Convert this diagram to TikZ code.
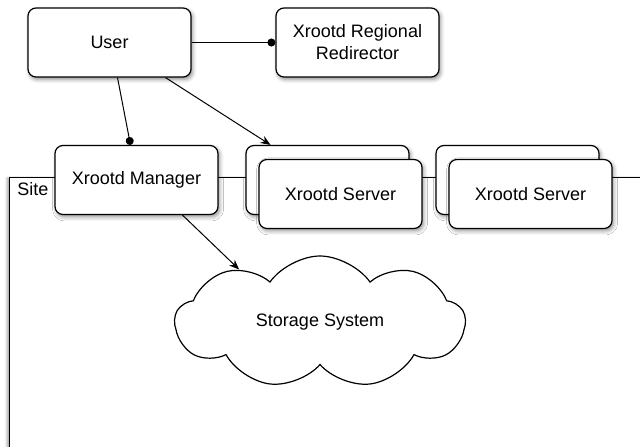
\documentclass[tikz,border=0pt]{standalone}
\usepackage{fontspec}
\setmainfont{Liberation Sans}
\usetikzlibrary{positioning,arrows.meta,shapes.symbols,shadows.blur,calc}

\begin{document}
\begin{tikzpicture}[
  x=0.5pt, y=0.5pt,
  font=\fontsize{9}{11}\selectfont, >=Stealth,
  box/.style={draw, rounded corners=4pt, fill=white, line width=0.6pt,
              minimum width=81.5pt, minimum height=34.5pt, align=center, inner sep=0pt,
              blur shadow={shadow xshift=0.8pt, shadow yshift=-1.2pt,
                           shadow blur radius=2pt, shadow opacity=45}},
  sitebox/.style={draw, fill=white, line width=0.6pt, anchor=north west,
              minimum width=330pt, minimum height=145pt, inner sep=0pt,
              blur shadow={shadow xshift=-1pt, shadow yshift=-0.5pt,
                           shadow blur radius=1.5pt, shadow opacity=45}},
  store/.style={draw, cloud, cloud puffs=9, cloud puff arc=110, cloud ignores aspect,
              fill=white, line width=0.6pt, inner sep=0pt,
              minimum width=145pt, minimum height=66pt},
  arr/.style={-{Stealth[length=5pt, width=4pt]}, line width=0.5pt},
  dot/.style={-{Circle[length=4pt]}, line width=0.5pt},
]
\useasboundingbox (0,0) rectangle (640,446);
\clip (0,0) rectangle (640,446);

\node[sitebox] (site) at (9,269) {};
\node[anchor=north west, inner sep=0pt] (sitelbl) at ($(site.north west)+(8,-5)$) {Site};

\node[box] (user)  at (109.5,403.5) {User};
\node[box] (redir) at (357.5,403.5) {Xrootd Regional\\Redirector};
\node[box] (mgr)   at (136.5,266) {Xrootd Manager};
\node[box] (srvAback) at (327.5,266) {};
\node[box] (srvA)     at (340.5,252) {Xrootd Server};
\node[box] (srvBback) at (517.5,266) {};
\node[box] (srvB)     at (530.5,252) {Xrootd Server};
\node[store] (storage) at (320,124) {Storage System};

\draw[dot] (user.east) -- (redir.west);
\draw[dot] ($(user.south)+(8,0)$) -- ($(mgr.north)+(-6,0)$);
\draw[arr] ($(user.south)+(56,0)$) -- ($(srvAback.north)+(-57,0)$);
\draw[arr] ($(mgr.south)+(46,0)$) -- (storage.147);
\end{tikzpicture}
\end{document}
